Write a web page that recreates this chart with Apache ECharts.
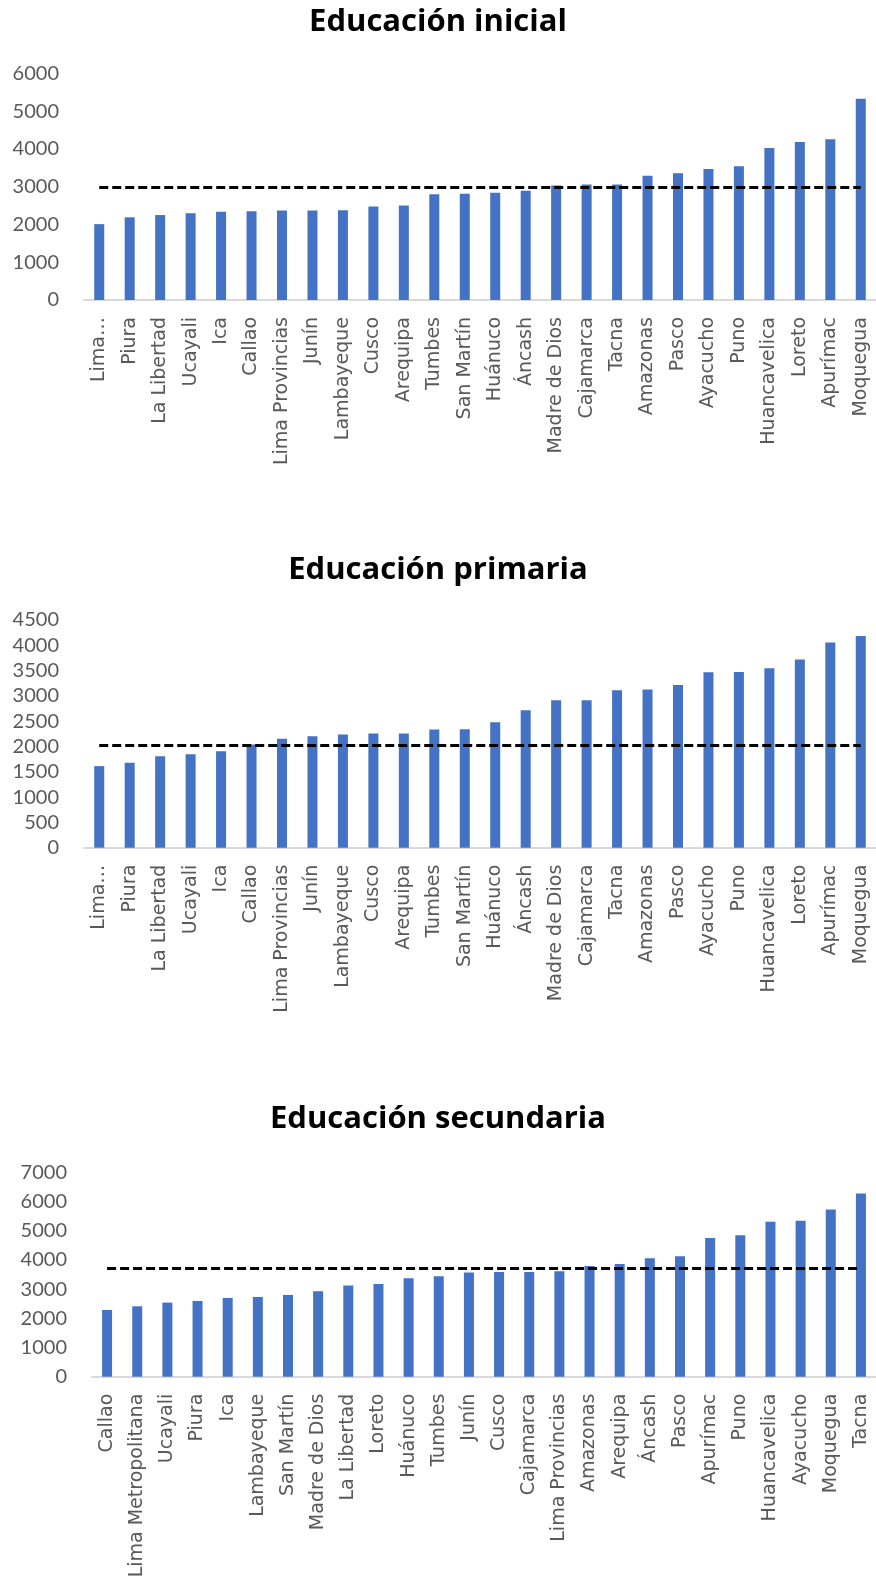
<!DOCTYPE html>
<html>
<head>
<meta charset="utf-8">
<script src="https://cdn.jsdelivr.net/npm/echarts@6/dist/echarts.min.js"></script>
<style>
  html, body { margin: 0; padding: 0; background: #fff; }
  #main { width: 876px; height: 1587px; }
</style>
</head>
<body>
<div id="main"></div>
<script>
// regiones ordenadas por monto, inicial y primaria
var regionesIniPri = ['Lima Metropolitana', 'Piura', 'La Libertad', 'Ucayali', 'Ica', 'Callao', 'Lima Provincias',
  'Junín', 'Lambayeque', 'Cusco', 'Arequipa', 'Tumbes', 'San Martín', 'Huánuco', 'Áncash', 'Madre de Dios',
  'Cajamarca', 'Tacna', 'Amazonas', 'Pasco', 'Ayacucho', 'Puno', 'Huancavelica', 'Loreto', 'Apurímac', 'Moquegua'];
var regionesSec = ['Callao', 'Lima Metropolitana', 'Ucayali', 'Piura', 'Ica', 'Lambayeque', 'San Martín',
  'Madre de Dios', 'La Libertad', 'Loreto', 'Huánuco', 'Tumbes', 'Junín', 'Cusco', 'Cajamarca', 'Lima Provincias',
  'Amazonas', 'Arequipa', 'Áncash', 'Pasco', 'Apurímac', 'Puno', 'Huancavelica', 'Ayacucho', 'Moquegua', 'Tacna'];

var gastoInicial = [2010, 2190, 2250, 2300, 2340, 2350, 2370, 2370, 2380, 2480, 2505, 2800, 2815, 2840, 2895,
  3035, 3060, 3060, 3290, 3355, 3470, 3540, 4025, 4185, 4255, 5330];
var gastoPrimaria = [1612, 1678, 1809, 1849, 1908, 2039, 2151, 2204, 2237, 2257, 2257, 2336, 2342, 2480, 2717,
  2914, 2914, 3112, 3125, 3217, 3467, 3474, 3546, 3717, 4053, 4184];
var gastoSecundaria = [2286, 2411, 2537, 2594, 2697, 2731, 2800, 2926, 3120, 3177, 3371, 3440, 3566, 3589, 3589,
  3611, 3794, 3863, 4057, 4126, 4754, 4846, 5303, 5337, 5726, 6274];

var promedios = [2990, 2020, 3726]; // linea punteada (promedio nacional)
var titulos = ['Educación inicial', 'Educación primaria', 'Educación secundaria'];
var ejeMax = [6000, 4500, 7000];
var ejePaso = [1000, 500, 1000];

var dom = document.getElementById('main');
var chart = echarts.init(dom);

var grids = [
  { left: 84, width: 798, top: 73.5, height: 226.5 },
  { left: 84, width: 798, top: 620, height: 227.7 },
  { left: 92, width: 789, top: 1172.3, height: 204.4 }
];
var titleTops = [2, 550, 1099];
var cats = [regionesIniPri, regionesIniPri, regionesSec];
var datos = [gastoInicial, gastoPrimaria, gastoSecundaria];

var xAxes = [], yAxes = [], series = [], titles = [];
for (let i = 0; i < 3; i++) {
  titles.push({
    text: titulos[i], left: 'center', top: titleTops[i],
    textStyle: { fontFamily: 'Open Sans', fontWeight: 'bold', fontSize: 31, color: '#000' }
  });
  xAxes.push({
    type: 'category', gridIndex: i, data: cats[i],
    axisLine: { lineStyle: { color: '#D9D9D9', width: 2 } },
    axisTick: { show: false },
    axisLabel: {
      rotate: 90, interval: 0, margin: 17, color: '#595959',
      fontFamily: '"DejaVu Sans"', fontSize: 19,
      formatter: function (v) { return (i < 2 && v === 'Lima Metropolitana') ? 'Lima…' : v; }
    }
  });
  yAxes.push({
    type: 'value', gridIndex: i, min: 0, max: ejeMax[i], interval: ejePaso[i],
    splitLine: { show: false },
    axisLine: { show: false },
    axisLabel: {
      margin: 25, color: '#595959', fontFamily: 'Lato', fontSize: 20,
      formatter: function (v) { return String(v); }
    }
  });
  series.push({
    type: 'bar', xAxisIndex: i, yAxisIndex: i, data: datos[i],
    barWidth: 10, itemStyle: { color: '#4472C4' },
    markLine: {
      silent: true, symbol: 'none', label: { show: false },
      lineStyle: { color: '#000', width: 3, type: [9, 4] },
      data: [[{ coord: [0, promedios[i]] }, { coord: [cats[i].length - 1, promedios[i]] }]]
    }
  });
}

chart.setOption({
  animation: false,
  title: titles,
  grid: grids,
  xAxis: xAxes,
  yAxis: yAxes,
  series: series
});
</script>
</body>
</html>
